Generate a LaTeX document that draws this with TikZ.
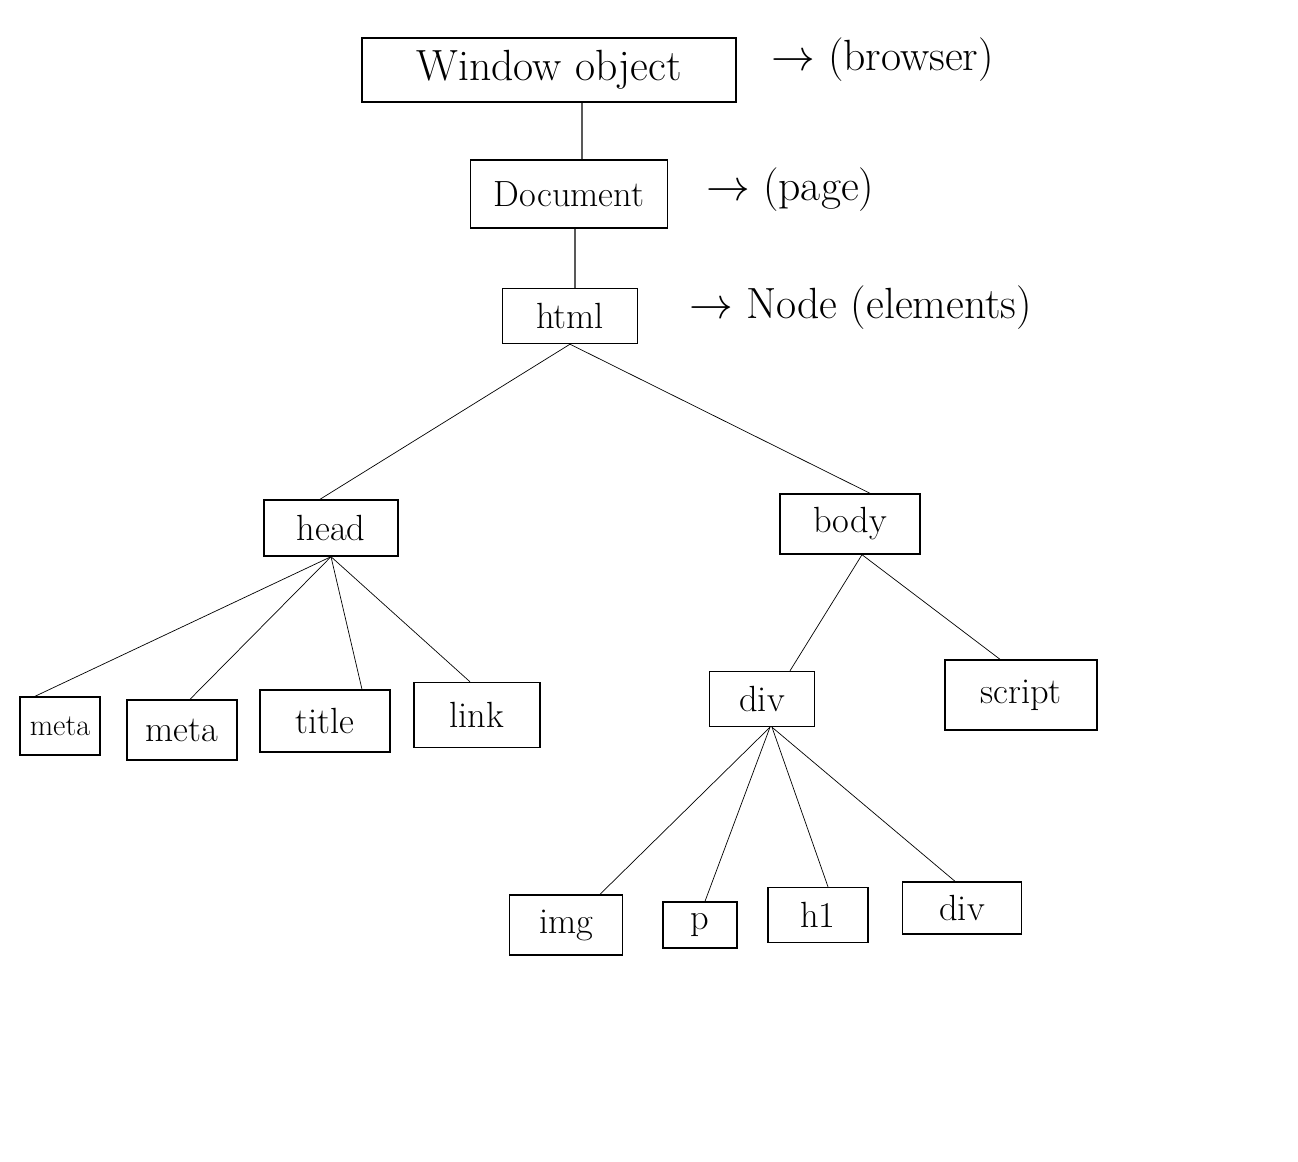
\documentclass[tikz,border=0pt]{standalone}
\begin{document}
\begin{tikzpicture}[x=0.02cm, y=-0.02cm,
        box/.style={draw, thick, inner sep=0pt, font=\huge},
        note/.style={font=\Huge, anchor=west}]
        \useasboundingbox (0, 0) rectangle (1298, 1162);

        \node[box, minimum width=7.48cm, minimum height=1.28cm, font=\Huge] (WO) at (549, 70) {Window object};
        \node[box, minimum width=3.94cm, minimum height=1.36cm] (DOC) at (569, 194) {Document};
        \node[box, minimum width=2.7cm, minimum height=1.1cm] (HTML) at (570, 316) {html};

        \node[note] (BR) at (765, 60) {$\to$ (browser)};
        \node[note] (PG) at (700, 190) {$\to$ (page)};
        \node[note] (EL) at (683, 308) {$\to$ Node (elements)};

        \node[box, minimum width=2.68cm, minimum height=1.12cm] (HEAD) at (331, 528) {head};
        \node[box, minimum width=2.8cm, minimum height=1.2cm] (BODY) at (850, 524) {body};

        \node[box, minimum width=1.6cm, minimum height=1.16cm, font=\LARGE] (META1) at (60, 726) {meta};
        \node[box, minimum width=2.2cm, minimum height=1.2cm] (META2) at (182, 730) {meta};
        \node[box, minimum width=2.6cm, minimum height=1.24cm] (TITLE) at (325, 721) {title};
        \node[box, minimum width=2.52cm, minimum height=1.3cm] (LINK) at (477, 715) {link};

        \node[box, minimum width=2.1cm, minimum height=1.1cm] (DIV) at (762, 699) {div};
        \node[box, minimum width=3.04cm, minimum height=1.4cm] (SCRIPT) at (1021, 695) {script};

        \node[box, minimum width=2.26cm, minimum height=1.2cm] (IMG) at (566, 925) {img};
        \node[box, minimum width=1.48cm, minimum height=0.92cm] (P) at (700, 925) {p};
        \node[box, minimum width=2.0cm, minimum height=1.1cm] (HONE) at (818, 915) {h1};
        \node[box, minimum width=2.38cm, minimum height=1.04cm] (DIVB) at (962, 908) {div};

        \draw[thick] ([xshift=0.66cm]WO.south) -- ([xshift=0.26cm]DOC.north);
        \draw[thick] ([xshift=0.12cm]DOC.south) -- ([xshift=0.1cm]HTML.north);

        \draw (HTML.south) -- ([xshift=-0.22cm]HEAD.north);
        \draw (HTML.south) -- ([xshift=0.4cm]BODY.north);

        \draw (HEAD.south) -- ([xshift=-0.5cm]META1.north);
        \draw (HEAD.south) -- ([xshift=0.16cm]META2.north);
        \draw (HEAD.south) -- ([xshift=0.74cm]TITLE.north);
        \draw (HEAD.south) -- ([xshift=-0.14cm]LINK.north);

        \draw ([xshift=0.24cm]BODY.south) -- ([xshift=0.56cm]DIV.north);
        \draw ([xshift=0.24cm]BODY.south) -- ([xshift=-0.42cm]SCRIPT.north);

        \draw ([xshift=0.16cm]DIV.south) -- ([xshift=0.68cm]IMG.north);
        \draw ([xshift=0.16cm]DIV.south) -- ([xshift=0.1cm]P.north);
        \draw ([xshift=0.2cm]DIV.south) -- ([xshift=0.2cm]HONE.north);
        \draw ([xshift=0.2cm]DIV.south) -- ([xshift=-0.14cm]DIVB.north);
    \end{tikzpicture}
\end{document}
